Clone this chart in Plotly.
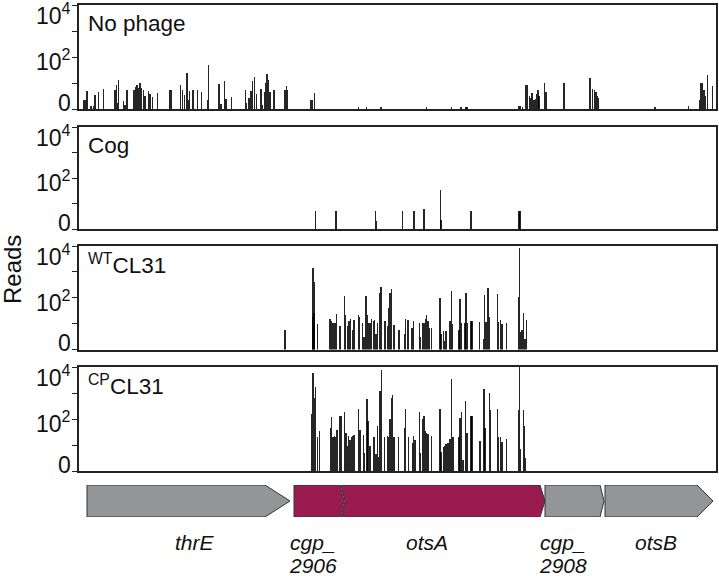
import plotly.graph_objects as go

# ---------------- data (positions along the locus, heights in log10 reads) ----------------
nophage_pos = [4.3, 6, 8, 11.3, 12.7, 14.3, 16, 19.3, 24.3, 36, 37.3, 38.3, 39.7, 44.3, 46, 48,
               54.7, 55.7, 56.7, 58, 59.3, 61, 62.7, 64.3, 66, 69.3, 71, 73.7, 78.3, 90.3, 92,
               101.7, 103.3, 105.7, 108, 109.3, 110.7, 113.3, 114.7, 118.7, 122.7, 128.3, 129.7,
               140, 141.3, 142.7, 145.7, 147, 152.7, 166.7, 167.7, 170, 172, 173.3, 175.3, 177.7,
               182, 183.3, 185.3, 186.7, 188, 189.3, 191, 195, 206, 207.3, 208.7, 232, 233.3, 235.3,
               279.3, 287.7, 302, 347.7, 372.7, 382, 387, 388,
               439.3, 441, 443.7, 447, 448.3, 450.3, 451.7, 453, 455, 456.3, 457.7, 459, 460,
               465.7, 467, 485, 511, 513.3, 515.3, 517, 518.7, 519.7, 576, 609.3,
               620.3, 622, 623.3, 625, 626.7, 628.3, 633.7]
nophage_val = [0.36, 0.34, 0.69, 0.1, 0.1, 0.1, 0.52, 0.65, 0.78, 0.72, 0.91, 0.23, 1.11, 0.3, 0.17, 0.75,
               0.75, 0.75, 0.85, 0.94, 0.82, 1.01, 0.82, 0.72, 0.49, 0.69, 0.56, 0.47, 0.6, 0.72, 0.72,
               0.91, 0.72, 0.52, 1.37, 0.34, 0.69, 0.72, 0.72, 0.72, 0.67, 0.36, 1.71,
               0.96, 0.21, 0.21, 1.07, 0.39, 0.47, 0.72, 0.23, 0.43, 0.69, 1.07, 1.24, 0.56,
               0.78, 0.17, 0.65, 1.01, 1.35, 1.11, 0.65, 0.75, 0.72, 0.88, 0.75, 0.34, 0.34, 0.6,
               0.06, 0.08, 0.08, 0.08, 0.09, 0.08, 0.09, 0.09,
               0.13, 0.13, 0.08, 0.94, 0.94, 0.49, 0.43, 0.62, 0.34, 0.39, 0.56, 0.72, 0.49,
               1.01, 0.65, 1.01, 1.2, 0.78, 0.72, 0.65, 0.49, 0.43, 0.08, 0.13,
               0.36, 1.01, 1.01, 0.72, 0.49, 1.29, 0.88]

cog_pos = [236.7, 256.7, 257.7, 296.7, 297.3, 323.3, 335, 344.3, 345.3, 361.3, 362,
           391.7, 392.7, 440, 441]
cog_val = [0.69, 0.69, 0.69, 0.69, 0.32, 0.69, 0.69, 0.79, 0.79, 1.53, 0.36,
           0.69, 0.69, 0.69, 0.69]

wt_pos = [206, 233.3, 234, 235, 235.7, 238.3, 251, 252.3, 253.6, 255, 256.4, 257.7, 261, 265.3, 266.3,
          268.7, 270, 271.3, 273.7, 275, 279.3, 280.7, 283.7, 285, 287, 288.3, 289.6, 291, 292.3,
          294.3, 295.7, 297, 298.7, 300.7, 302, 306, 308.3, 309.7, 311, 312.3, 315, 319.3, 320.7,
          325.3, 326.7, 329, 333, 334.7, 340.3, 341.7, 343.7, 345, 346.3, 347.7, 349, 350.7, 352.7,
          361, 362, 364.3, 365.6, 367, 371, 372.3, 373.7, 380, 381, 382.7, 386, 387, 388.3,
          392, 393, 400.3, 404.3, 405.7, 407, 409, 410.3, 418.3, 419.7, 421.7, 423, 427.7,
          439.3, 440.7, 441.7, 443, 444.7, 446, 447.7]
wt_val = [0.74, 1.26, 3.15, 1.42, 2.59, 1.0, 1.17, 1.1, 1.04, 1.04, 1.04, 1.36, 0.91, 2.07, 1.33,
          0.91, 1.1, 1.17, 0.74, 1.15, 1.33, 1.26, 1.02, 0.5, 2.05, 1.33, 1.02, 1.02, 1.17,
          1.1, 1.15, 0.58, 1.02, 2.2, 2.42, 1.1, 0.91, 1.59, 2.2, 2.33, 0.93, 0.74, 0.74,
          0.58, 1.19, 1.13, 0.84, 1.09, 1.02, 0.5, 1.02, 1.02, 1.17, 1.33, 1.1, 0.84, 0.82,
          2.0, 0.61, 0.71, 0.32, 0.71, 1.1, 2.27, 1.0, 0.74, 1.94, 1.02, 1.02, 2.2, 1.02,
          1.1, 1.1, 1.06, 0.39, 2.11, 1.06, 2.37, 1.26, 2.16, 1.06, 1.15, 0.97, 1.02,
          2.03, 3.92, 0.69, 0.74, 1.42, 0.39, 1.15]

cp_pos = [232.7, 234, 235.3, 236.7, 238.7, 240.3, 251.3, 252.7, 254, 255.3, 256.7, 258, 261, 262.3,
          265.7, 267, 268.3, 269.7, 271, 272.3, 273.7, 275, 279.7, 281, 284.3, 285.7, 288, 289,
          290.3, 291.7, 294.3, 295.7, 297, 298.3, 299.7, 301, 302.7, 305.7, 308.3, 309.7, 311,
          312.3, 313.3, 315, 319.3, 325.3, 326.7, 329.3, 333.3, 334.7, 336, 340.3, 341.7, 343.7,
          345, 346.3, 347.7, 349, 352.7, 361, 362, 364.3, 365.6, 367, 368.3, 369.6, 371, 372.7,
          374, 380, 381, 382.7, 384, 386.7, 388, 392, 393, 401, 405, 406, 410.3, 411.3, 418.3,
          419.7, 421.7, 423, 427.7, 439.3, 440.7, 441.7, 444.3, 445.7, 446.7]
cp_val = [2.2, 3.77, 2.8, 3.25, 1.32, 1.52, 1.65, 2.07, 1.3, 1.35, 1.32, 1.56, 2.1, 2.12,
          2.28, 1.48, 0.96, 1.35, 1.2, 1.3, 1.35, 1.39, 2.4, 1.56, 1.39, 0.68, 2.77, 1.92,
          0.96, 0.96, 1.3, 1.32, 0.66, 1.74, 0.55, 3.06, 3.9, 1.3, 1.35, 1.3, 1.99,
          2.8, 2.93, 1.32, 1.3, 1.66, 2.4, 1.3, 1.09, 1.35, 1.2, 2.28, 0.68, 1.99,
          2.12, 1.52, 1.48, 1.43, 1.35, 2.38, 0.75, 0.94, 0.96, 1.02, 1.07, 1.09, 1.22, 3.54,
          1.3, 1.3, 2.03, 2.28, 0.42, 2.69, 1.45, 2.12, 2.12, 1.17, 3.15, 1.65, 3.0, 2.35, 2.38,
          1.3, 1.32, 1.13, 1.22, 2.35, 4.44, 0.84, 2.35, 1.74, 0.49]

panel_labels = ["No phage", "Cog", "<sup>WT</sup>CL31", "<sup>CP</sup>CL31"]
tick_vals = [0, 1, 2, 3, 4]
label_vals = [0, 2, 4]
label_text = ["0", "10<sup>2</sup>", "10<sup>4</sup>"]

gene_names = ["thrE", "cgp_\n2906", "otsA", "cgp_\n2908", "otsB"]
gene_start = [8, 215, 262, 466, 526]
gene_end = [211, 265, 466, 525, 634]
gene_label_x = [116, 234, 348, 484, 577]
gene_colors = ["#939598", "#9a1b50", "#9a1b50", "#939598", "#939598"]
gene_head = [25, 4, 5, 4, 16]
gene_notch = [0, 0, 4, 0, 0]

# ---------------- layout geometry ----------------
W, H = 719, 576
X_RANGE = [0, 637]
x_dom = [79 / W, 716 / W]
panels_px = [(5, 109), (127, 229), (246, 349.5), (367, 471)]
gene_px = (485, 517)
gene_label_rows = [542, 565]
label_shift = {0: 6, 2: -3, 4: -9}
FONT = "Arial, Liberation Sans, sans-serif"


def ydom(top, bot):
    return [1 - bot / H, 1 - top / H]


fig = go.Figure()
series = [(nophage_pos, nophage_val), (cog_pos, cog_val), (wt_pos, wt_val), (cp_pos, cp_val)]
for i, (pos, val) in enumerate(series):
    n = i + 1
    fig.add_trace(go.Bar(
        x=pos, y=val, width=1.3,
        marker=dict(color="rgba(0,0,0,0.85)", line=dict(width=0)),
        xaxis="x" if n == 1 else f"x{n}", yaxis="y" if n == 1 else f"y{n}",
        cliponaxis=False, showlegend=False, hoverinfo="skip"))

# gene arrows
for s, e, h, nt, c in zip(gene_start, gene_end, gene_head, gene_notch, gene_colors):
    xs = [s, e - h, e, e - h, s, s + nt, s]
    ys = [0, 0, 0.5, 1, 1, 0.5, 0]
    fig.add_trace(go.Scatter(
        x=xs, y=ys, mode="lines", fill="toself", fillcolor=c,
        line=dict(color="#333", width=1),
        xaxis="x5", yaxis="y5", showlegend=False, hoverinfo="skip"))

layout = dict(
    width=W, height=H, margin=dict(l=0, r=0, t=0, b=0, autoexpand=False),
    paper_bgcolor="white", plot_bgcolor="white",
    font=dict(family=FONT, color="#111", size=20),
    barmode="overlay", bargap=0,
)
annotations = []
for i, (top, bot) in enumerate(panels_px):
    n = i + 1
    xk = "xaxis" if n == 1 else f"xaxis{n}"
    yk = "yaxis" if n == 1 else f"yaxis{n}"
    ya = "y" if n == 1 else f"y{n}"
    xa = "x" if n == 1 else f"x{n}"
    layout[xk] = dict(domain=x_dom, range=X_RANGE, anchor=ya, showline=True, mirror=True,
                      linecolor="#222", linewidth=1.5, showgrid=False, zeroline=False,
                      ticks="", showticklabels=False, automargin=False)
    layout[yk] = dict(domain=ydom(top, bot), range=[0, 4], anchor=xa, showline=True, mirror=True,
                      linecolor="#222", linewidth=1.5, showgrid=False, zeroline=False,
                      tickmode="array", tickvals=tick_vals, showticklabels=False,
                      ticks="outside", ticklen=5, tickwidth=1.2, tickcolor="#222",
                      automargin=False)
    for v, t in zip(label_vals, label_text):
        annotations.append(dict(text=t, xref="paper", yref=ya, x=73 / W, y=v,
                                xanchor="right", yanchor="middle", yshift=label_shift[v],
                                showarrow=False, font=dict(size=23, family=FONT, color="#111")))
    annotations.append(dict(text=panel_labels[i], xref="paper", yref="paper",
                            x=86 / W, y=1 - (top + 18) / H, xanchor="left", yanchor="middle",
                            showarrow=False, font=dict(size=22.5, family=FONT, color="#111")))
layout["xaxis5"] = dict(domain=x_dom, range=X_RANGE, anchor="y5", visible=False)
layout["yaxis5"] = dict(domain=ydom(*gene_px), range=[0, 1], anchor="x5", visible=False)

annotations.append(dict(text="Reads", xref="paper", yref="paper", x=12 / W, y=1 - 270 / H,
                        textangle=-90, showarrow=False, xanchor="center", yanchor="middle",
                        font=dict(size=24, family=FONT, color="#111")))
for name, lx in zip(gene_names, gene_label_x):
    for row, line in zip(gene_label_rows, name.split("\n")):
        annotations.append(dict(text=f"<i>{line}</i>", xref="x5", yref="paper", x=lx,
                                y=1 - row / H, xanchor="center", yanchor="middle",
                                showarrow=False, font=dict(size=21, family=FONT, color="#111")))
layout["annotations"] = annotations
fig.update_layout(**layout)
fig.write_html(
    "out.html",
    config={"displayModeBar": False},
    post_script="document.body.style.margin='0px';document.body.style.overflow='hidden';",
)
